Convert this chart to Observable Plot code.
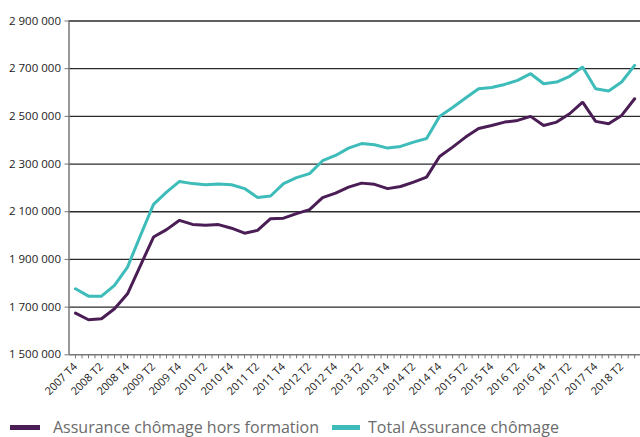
<!DOCTYPE html>
<html>
<head>
<meta charset="utf-8">
<script src="https://cdn.jsdelivr.net/npm/d3@7"></script>
<script src="https://cdn.jsdelivr.net/npm/@observablehq/plot@0.6"></script>
<style>
  html, body { margin: 0; padding: 0; background: #fff; }
  #wrap { position: relative; width: 640px; height: 437px; overflow: hidden; }
  #legend { position: absolute; left: 0; top: 416px; width: 640px; height: 22px; font-family: "Open Sans", sans-serif; font-size: 16px; color: #6b6b6b; }
  .item { position: absolute; top: 0; height: 22px; line-height: 22px; white-space: nowrap; }
  .sw { position: absolute; top: 9px; height: 5px; }
</style>
</head>
<body>
<div id="wrap">
  <div id="chart"></div>
  <div id="legend"></div>
</div>
<script>
const quarters = [
  "2007 T4",
  "2008 T1","2008 T2","2008 T3","2008 T4",
  "2009 T1","2009 T2","2009 T3","2009 T4",
  "2010 T1","2010 T2","2010 T3","2010 T4",
  "2011 T1","2011 T2","2011 T3","2011 T4",
  "2012 T1","2012 T2","2012 T3","2012 T4",
  "2013 T1","2013 T2","2013 T3","2013 T4",
  "2014 T1","2014 T2","2014 T3","2014 T4",
  "2015 T1","2015 T2","2015 T3","2015 T4",
  "2016 T1","2016 T2","2016 T3","2016 T4",
  "2017 T1","2017 T2","2017 T3","2017 T4",
  "2018 T1","2018 T2","2018 T3"
];
const horsFormation = [
  1675000, 1647000, 1651000, 1693000, 1756000, 1875000, 1994000, 2025000, 2064000,
  2047000, 2043000, 2046000, 2031000, 2010000, 2022000, 2071000, 2073000,
  2092000, 2109000, 2159000, 2178000, 2203000, 2220000, 2215000, 2197000,
  2206000, 2224000, 2245000, 2332000, 2371000, 2413000, 2449000, 2462000,
  2476000, 2483000, 2500000, 2462000, 2476000, 2511000, 2560000, 2479000,
  2469000, 2504000, 2574000
];
const totalAC = [
  1777000, 1746000, 1746000, 1791000, 1868000, 2001000, 2131000, 2182000, 2227000,
  2218000, 2213000, 2216000, 2213000, 2197000, 2160000, 2166000, 2218000,
  2243000, 2260000, 2314000, 2336000, 2367000, 2386000, 2381000, 2367000,
  2374000, 2392000, 2407000, 2500000, 2537000, 2577000, 2616000, 2621000,
  2634000, 2651000, 2679000, 2637000, 2644000, 2668000, 2707000, 2616000,
  2606000, 2644000, 2714000
];
const seriesNames = ["Assurance chômage hors formation", "Total Assurance chômage"];
const seriesColors = ["#4a1d55", "#3dbcb9"];
const yTicks = [1500000, 1700000, 1900000, 2100000, 2300000, 2500000, 2700000, 2900000];

const rows = [];
quarters.forEach((q, i) => {
  rows.push({i, q, v: horsFormation[i], s: seriesNames[0]});
  rows.push({i, q, v: totalAC[i], s: seriesNames[1]});
});
const labelIdx = quarters.map((q, i) => i).filter(i => i % 2 === 0);
const halfTicks = d3.range(-0.5, quarters.length, 0.5).filter(t => t > -0.5);

const fr = d3.formatLocale({decimal: ",", thousands: "\u00a0", grouping: [3], currency: ["", ""]});
const fmt = fr.format(",d");

const chart = Plot.plot({
  width: 640,
  height: 410,
  marginLeft: 68.5,
  marginRight: 0,
  marginTop: 20.5,
  marginBottom: 55.7,
  style: {fontFamily: "Open Sans, sans-serif", background: "#fff"},
  x: {type: "linear", domain: [-0.5, quarters.length - 0.55]},
  y: {domain: [1500000, 2900000]},
  color: {domain: seriesNames, range: seriesColors},
  marks: [
    Plot.gridY(yTicks.filter(t => t > 1500000), {stroke: "#2a2a2a", strokeOpacity: 1, strokeWidth: 1.3}),
    Plot.axisY({ticks: yTicks, tickFormat: fmt, tickSize: 4, tickPadding: 4, label: null, fontSize: 11.5, color: "#222", stroke: "#777"}),
    Plot.axisX({ticks: halfTicks, tickSize: 4, tickFormat: () => "", label: null, stroke: "#777"}),
    Plot.axisX({ticks: labelIdx, tickSize: 0, tickFormat: i => quarters[i], tickRotate: -45, tickPadding: 4, label: null, fontSize: 11, fill: "#222", dx: 0, dy: 6}),
    Plot.ruleY([1500000], {stroke: "#777", strokeWidth: 1.5}),
    Plot.ruleX([-0.5], {stroke: "#777", strokeWidth: 1.5}),
    Plot.line(rows, {x: "i", y: "v", z: "s", stroke: "s", strokeWidth: 3, strokeLinejoin: "miter"})
  ]
});
document.getElementById("chart").appendChild(chart);

const legend = document.getElementById("legend");
const pos = [{sw: 10, w: 30, tx: 53}, {sw: 332, w: 28, tx: 368}];
seriesNames.forEach((name, k) => {
  const sw = document.createElement("div");
  sw.className = "sw";
  sw.style.left = pos[k].sw + "px";
  sw.style.width = pos[k].w + "px";
  sw.style.background = seriesColors[k];
  legend.appendChild(sw);
  const it = document.createElement("div");
  it.className = "item";
  it.style.left = pos[k].tx + "px";
  it.textContent = name;
  legend.appendChild(it);
});
</script>
</body>
</html>
